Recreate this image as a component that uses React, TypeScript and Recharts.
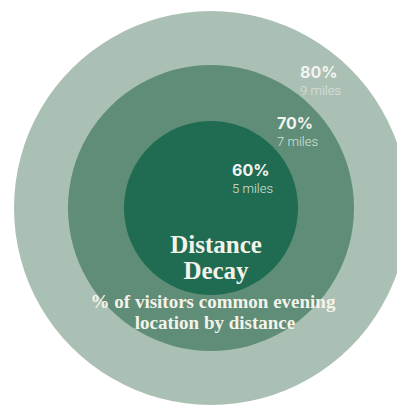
import { PieChart, Pie, Cell } from "recharts";

// rings from outside in
const shares = ["80%", "70%", "60%"];
const distances = ["9 miles", "7 miles", "5 miles"];
const ringValues = [1, 1, 1];

const ringColors = ["#abc0b4", "#5f8d77", "#1f6c52"];
const ringRadius = [197, 143, 87];
const labelPos = [
  { x: 300, y: 78 },
  { x: 277, y: 129 },
  { x: 232, y: 176 },
];

const CX = 211;
const CY = 208;

export default function App() {
  return (
    <div style={{ position: "absolute", left: 0, top: 0, width: 397, height: 414, background: "#fff", overflow: "hidden" }}>
      <PieChart width={397} height={414} margin={{ top: 0, right: 0, bottom: 0, left: 0 }}>
        {shares.map((s, i) => (
          <Pie
            key={s}
            data={[{ name: s, value: ringValues[i] }]}
            dataKey="value"
            cx={CX}
            cy={CY}
            innerRadius={0}
            outerRadius={ringRadius[i]}
            startAngle={90}
            endAngle={-270}
            stroke="none"
            isAnimationActive={false}
          >
            <Cell fill={ringColors[i]} />
          </Pie>
        ))}
      </PieChart>
      {/* labels drawn over the rings */}
      <svg width={397} height={414} style={{ position: "absolute", left: 0, top: 0, pointerEvents: "none" }}>
        {shares.map((s, i) => (
          <g key={"l" + s}>
            <text
              x={labelPos[i].x}
              y={labelPos[i].y}
              fill="#f3f4f1"
              fontFamily="Inter, Roboto, sans-serif"
              fontWeight={700}
              fontSize={16}
            >
              {s}
            </text>
            <text
              x={labelPos[i].x}
              y={labelPos[i].y + 17}
              fill="#dbe4de"
              fontFamily="Roboto, sans-serif"
              fontWeight={300}
              fontSize={13}
            >
              {distances[i]}
            </text>
          </g>
        ))}
        <g fill="#f4f3ea" fontFamily="'Liberation Serif', serif" fontWeight={700} textAnchor="middle">
          <text x={216} y={253} fontSize={25}>Distance</text>
          <text x={216} y={279} fontSize={25}>Decay</text>
          <text x={213} y={308} fontSize={19}>% of visitors common evening</text>
          <text x={215} y={329} fontSize={19}>location by distance</text>
        </g>
      </svg>
    </div>
  );
}
